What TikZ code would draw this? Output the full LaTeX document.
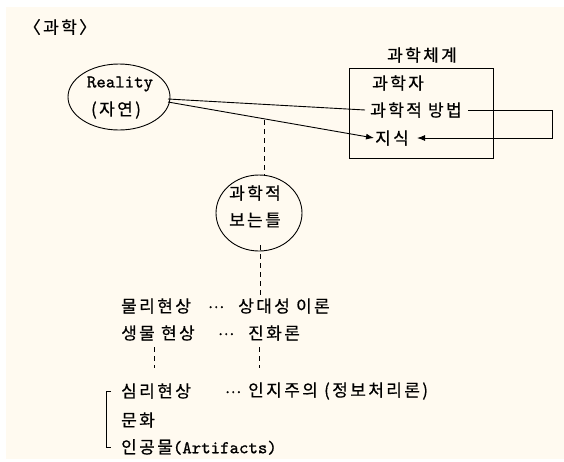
\documentclass[tikz,border=0pt]{standalone}
\usepackage{fontspec}
\setmainfont{Noto Sans CJK KR}
\newfontfamily\kofont{Noto Sans CJK KR}[LetterSpace=14,FakeBold=0.6]
\newfontfamily\latfont{lmmono10-regular}[Extension=.otf,FakeBold=0.8]
\newcommand\latpart{\latfont\fontsize{18}{18}\selectfont}
\usetikzlibrary{shapes.geometric,arrows.meta,calc}
\definecolor{bgcream}{RGB}{255,250,240}
\tikzset{
  txt/.style={inner sep=0pt, font=\kofont\fontsize{17}{17}\selectfont},
  dots/.style={inner sep=0pt, anchor=base, font=\kofont\fontsize{15}{15}\selectfont},
  oval/.style={draw, ellipse, inner sep=0pt, line width=0.9pt},
  sysbox/.style={draw, inner sep=0pt, line width=0.9pt},
  conn/.style={line width=0.9pt},
  arr/.style={line width=0.9pt, -{Latex[length=8pt,width=6pt]}},
  dline/.style={line width=0.9pt, dash pattern=on 5pt off 4pt},
}
\begin{document}
\begin{tikzpicture}[x=1pt,y=-1pt]
\useasboundingbox (0,0) rectangle (564,461);
\fill[bgcream] (6,7) rectangle (564,459);

\node[txt] (title) at (60,27) {〈과학〉};

% Reality
\node[oval, minimum width=102, minimum height=66] (real) at (119,97) {};
\node[txt] (realA) at (120,84) {\latpart Reality};
\node[txt] (realB) at (116,110) {(자연)};

% science system
\node[sysbox, minimum width=144, minimum height=90] (sys) at (421,113) {};
\node[txt] (systitle) at (422,55) {과학체계};
\node[txt, anchor=west] (sci) at (372,83) {과학자};
\node[txt, anchor=west] (meth) at (370,110) {과학적 방법};
\node[txt, anchor=west] (know) at (375,138) {지식};

\coordinate (r1) at (168,99);
\coordinate (r2) at (168,102);
\draw[conn] (r1) -- ([xshift=-5pt]meth.west);
\draw[arr] (r2) -- ([xshift=-1pt]know.west);
\coordinate (lp) at (552,110);
\draw[arr] ([xshift=6pt]meth.east) -- (lp) |- ([xshift=8pt]know.east);

% frame ellipse
\node[oval, minimum width=86, minimum height=76] (frame) at (259,213) {};
\node[txt] (frA) at (255,193) {과학적};
\node[txt] (frB) at (255,220) {보는틀};
\coordinate (t1) at (264,120);
\draw[dline] (t1) -- (frame.north -| t1);
\coordinate (t2) at (260,297);
\draw[dline] ([yshift=6pt]frame.south -| t2) -- (t2);

% lists
\node[txt, anchor=west] (p1) at (121,306) {물리현상};
\node[dots] (d1) at (216,308) {…};
\node[txt, anchor=west] (p1b) at (238,306) {상대성 이론};
\node[txt, anchor=west] (b1) at (121,333) {생물 현상};
\node[dots] (d2) at (226,335) {…};
\node[txt, anchor=west] (b1b) at (248,333) {진화론};

\coordinate (u1) at (154,347);
\coordinate (u2) at (154,368);
\coordinate (v1) at (259,347);
\coordinate (v2) at (259,368);
\draw[dline] (u1) -- (u2);
\draw[dline] (v1) -- (v2);

\node[txt, anchor=west] (s1) at (121,391) {심리현상};
\node[dots] (d3) at (233,393) {…};
\node[txt, anchor=west] (s1b) at (248,391) {인지주의 (정보처리론)};
\node[txt, anchor=west] (c1) at (121,420) {문화};
\node[txt, anchor=west] (a1) at (121,447) {인공물{\latpart(Artifacts)}};

\draw[conn] ([xshift=-10pt]s1.west) -- ++(-5,0) |- ([xshift=-10pt]a1.west);
\end{tikzpicture}
\end{document}
